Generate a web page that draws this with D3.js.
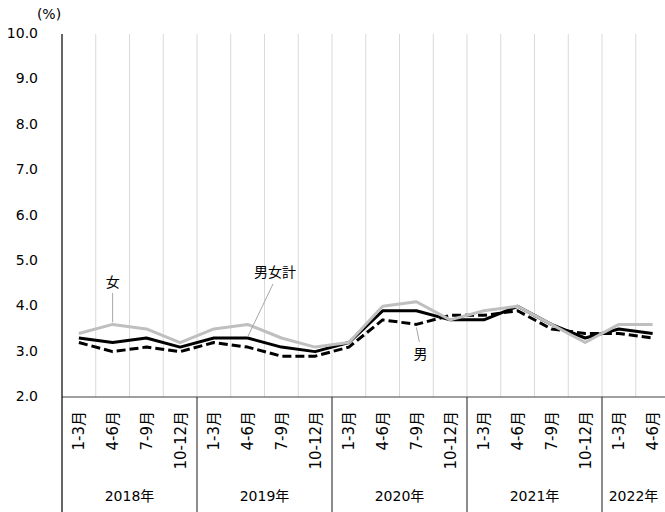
<!DOCTYPE html>
<html>
<head>
<meta charset="utf-8">
<script src="https://cdn.jsdelivr.net/npm/d3@7"></script>
<style>
  body { margin: 0; background: #fff; }
  text { font-family: "DejaVu Sans", "Noto Sans CJK JP", sans-serif; fill: #000; }
</style>
</head>
<body>
<div id="chart"></div>
<script>
// quarters and years
var quarters = ["1-3月","4-6月","7-9月","10-12月",
                "1-3月","4-6月","7-9月","10-12月",
                "1-3月","4-6月","7-9月","10-12月",
                "1-3月","4-6月","7-9月","10-12月",
                "1-3月","4-6月"];
var years = ["2018年","2019年","2020年","2021年","2022年"];
var yearCounts = [4, 4, 4, 4, 2];
var yTicks = [2, 3, 4, 5, 6, 7, 8, 9, 10];

// series (%)
var total  = [3.3, 3.2, 3.3, 3.1, 3.3, 3.3, 3.1, 3.0, 3.2, 3.9, 3.9, 3.7, 3.7, 4.0, 3.6, 3.3, 3.5, 3.4];
var male   = [3.2, 3.0, 3.1, 3.0, 3.2, 3.1, 2.9, 2.9, 3.1, 3.7, 3.6, 3.8, 3.8, 3.9, 3.5, 3.4, 3.4, 3.3];
var female = [3.4, 3.6, 3.5, 3.2, 3.5, 3.6, 3.3, 3.1, 3.2, 4.0, 4.1, 3.7, 3.9, 4.0, 3.6, 3.2, 3.6, 3.6];

var width = 665, height = 512;
var plotLeft = 62, plotTop = 34, plotBottom = 397;
var band = 33.75;

var svg = d3.select("#chart").append("svg")
    .attr("width", width)
    .attr("height", height);

var idx = d3.range(quarters.length);
var x = d3.scaleBand()
    .domain(idx)
    .range([plotLeft, plotLeft + band * quarters.length])
    .padding(0);
var y = d3.scaleLinear()
    .domain([2, 10])
    .range([plotBottom, plotTop]);

// vertical gridlines at band boundaries
svg.selectAll(".vgrid")
    .data(idx.slice(1))
    .enter().append("line")
    .attr("x1", function(d) { return x(d); })
    .attr("x2", function(d) { return x(d); })
    .attr("y1", plotTop)
    .attr("y2", plotBottom)
    .attr("stroke", "#d9d9d9")
    .attr("stroke-width", 1);

// y axis labels
var yAxis = svg.append("g")
    .attr("transform", "translate(" + (plotLeft - 24) + ",0)")
    .call(d3.axisLeft(y).tickValues(yTicks).tickSize(0).tickPadding(0)
        .tickFormat(d3.format(".1f")));
yAxis.select(".domain").remove();
yAxis.selectAll("text")
    .style("font-size", "14px")
    .style("font-family", "'DejaVu Sans', sans-serif")
    .attr("dy", "0.25em")
    .attr("fill", "#000");

svg.append("text")
    .attr("x", 49)
    .attr("y", 19)
    .attr("text-anchor", "middle")
    .style("font-size", "14px")
    .text("(%)");

// x axis with month labels
var xAxis = svg.append("g")
    .attr("transform", "translate(0," + plotBottom + ")")
    .call(d3.axisBottom(x).tickSize(0).tickFormat(function(d) { return quarters[d]; }));
xAxis.select(".domain").remove();
xAxis.selectAll("text")
    .attr("transform", "rotate(-90)")
    .attr("x", -14)
    .attr("y", 0)
    .attr("dy", "0.36em")
    .attr("text-anchor", "end")
    .attr("fill", "#000")
    .style("font-size", "15px")
    .style("font-family", "'DejaVu Sans', 'Noto Sans CJK JP', sans-serif");

svg.append("line")
    .attr("x1", plotLeft).attr("x2", width)
    .attr("y1", plotBottom).attr("y2", plotBottom)
    .attr("stroke", "#404040").attr("stroke-width", 1);

// year groups
var starts = [];
var acc = 0;
yearCounts.forEach(function(c) { starts.push(acc); acc += c; });

svg.selectAll(".ysep")
    .data(starts.slice(1))
    .enter().append("line")
    .attr("x1", function(d) { return x(d); })
    .attr("x2", function(d) { return x(d); })
    .attr("y1", plotBottom)
    .attr("y2", height)
    .attr("stroke", "#404040")
    .attr("stroke-width", 1.2);

svg.selectAll(".ylab")
    .data(years)
    .enter().append("text")
    .attr("x", function(d, i) {
        var a = x(starts[i]);
        var b = x(starts[i] + yearCounts[i] - 1) + x.bandwidth();
        return Math.min((a + b) / 2, b - 36);
    })
    .attr("y", 501)
    .attr("text-anchor", "middle")
    .style("font-size", "14px")
    .style("font-family", "'DejaVu Sans', 'Noto Sans CJK JP', sans-serif")
    .text(function(d) { return d; });

// left axis line
svg.append("line")
    .attr("x1", plotLeft).attr("x2", plotLeft)
    .attr("y1", plotTop).attr("y2", height)
    .attr("stroke", "#000").attr("stroke-width", 1.2);

// lines
var line = d3.line()
    .x(function(d, i) { return x(i) + x.bandwidth() / 2; })
    .y(function(d) { return y(d); });

svg.append("path")
    .datum(total)
    .attr("d", line)
    .attr("fill", "none")
    .attr("stroke", "#000")
    .attr("stroke-width", 3)
    .attr("stroke-linejoin", "round");

svg.append("path")
    .datum(male)
    .attr("d", line)
    .attr("fill", "none")
    .attr("stroke", "#000")
    .attr("stroke-width", 3)
    .attr("stroke-dasharray", "9,4")
    .attr("stroke-linejoin", "round");

svg.append("path")
    .datum(female)
    .attr("d", line)
    .attr("fill", "none")
    .attr("stroke", "#bfbfbf")
    .attr("stroke-width", 3)
    .attr("stroke-linejoin", "round");

// callouts
function cx(i) { return x(i) + x.bandwidth() / 2; }
var callouts = [
    {label: "女",     tx: cx(1),       ty: 287, x1: cx(1),       y1: 293, x2: cx(1),       y2: y(female[1]) - 2},
    {label: "男女計", tx: 275,         ty: 277, x1: 273,         y1: 284, x2: cx(5),       y2: y(total[5]) - 1},
    {label: "男",     tx: cx(10) + 4,  ty: 359, x1: cx(10) + 3,  y1: 342, x2: cx(10),      y2: y(male[10]) + 3}
];
svg.selectAll(".leader")
    .data(callouts)
    .enter().append("line")
    .attr("x1", function(d) { return d.x1; })
    .attr("y1", function(d) { return d.y1; })
    .attr("x2", function(d) { return d.x2; })
    .attr("y2", function(d) { return d.y2; })
    .attr("stroke", "#a6a6a6")
    .attr("stroke-width", 1);
svg.selectAll(".clab")
    .data(callouts)
    .enter().append("text")
    .attr("x", function(d) { return d.tx; })
    .attr("y", function(d) { return d.ty; })
    .attr("text-anchor", "middle")
    .style("font-size", "14px")
    .style("font-family", "'Noto Sans CJK JP', sans-serif")
    .text(function(d) { return d.label; });
</script>
</body>
</html>
